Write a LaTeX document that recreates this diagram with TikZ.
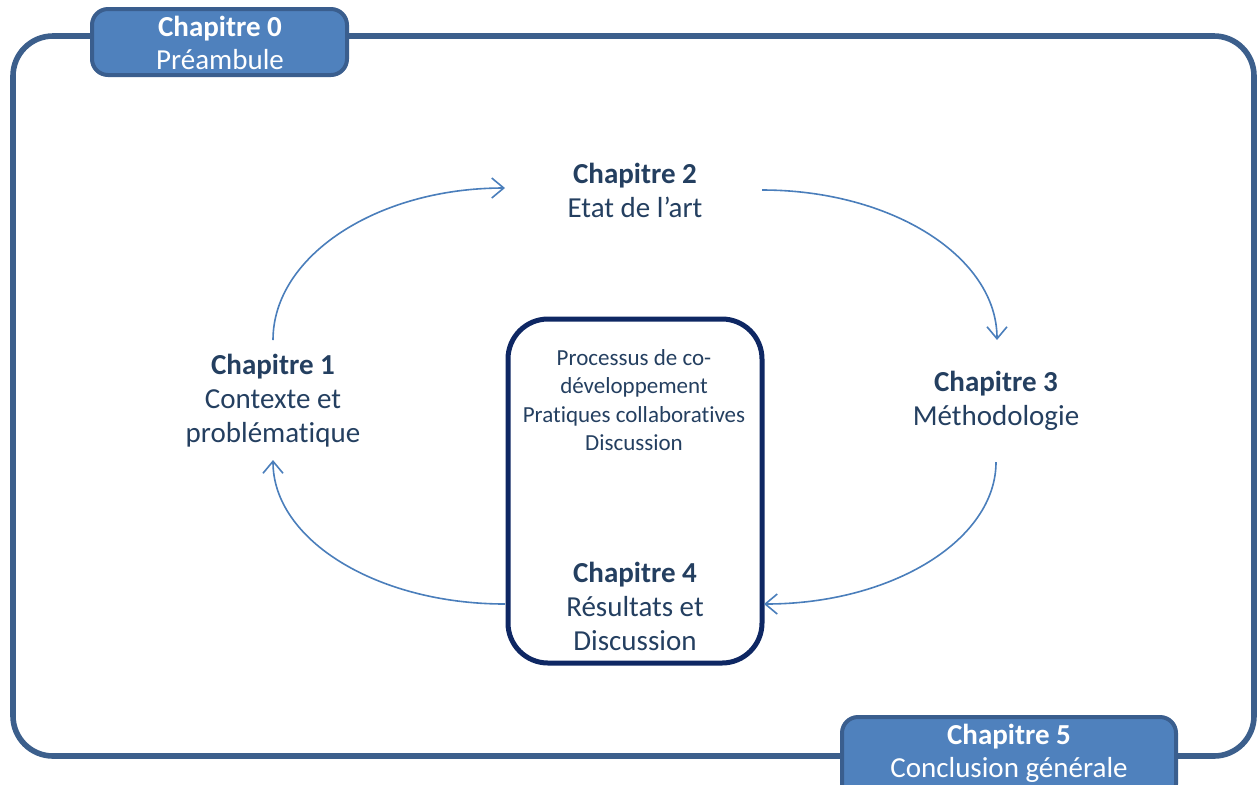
\documentclass[tikz,border=0pt]{standalone}
\usepackage{fontspec}
\setmainfont[RawFeature={-liga}]{Carlito}
\usetikzlibrary{arrows.meta}
\definecolor{framecol}{HTML}{3C5F8C}
\definecolor{boxfill}{HTML}{4F81BD}
\definecolor{boxedge}{HTML}{3A5E8E}
\definecolor{txtcol}{HTML}{243F60}
\definecolor{navy}{HTML}{0E2763}
\definecolor{arrcol}{HTML}{4A7EBB}
\tikzset{
  chapbox/.style={draw=boxedge, fill=boxfill, line width=2pt, rounded corners=8pt},
  boxlabel/.style={text=white, align=center, inner sep=0pt, font=\fontsize{14.5}{16.5}\selectfont},
  chaplabel/.style={text=txtcol, align=center, inner sep=0pt, font=\fontsize{14.5}{17}\selectfont},
  smalllabel/.style={text=txtcol, align=center, inner sep=0pt, font=\fontsize{11.5}{14.25}\selectfont},
  cyc/.style={draw=arrcol, line width=0.8pt, -{Straight Barb[length=6pt,width=10pt,line width=0.8pt]}},
}
\begin{document}
\begin{tikzpicture}[x=0.5pt,y=-0.5pt]
\useasboundingbox (0,0) rectangle (1258,784);
\clip (0,0) rectangle (1258,784);
% outer frame
\draw[draw=framecol, line width=2.8pt, rounded corners=20pt] (13,36) rectangle (1254,756);
% chapter 0 box
\draw[chapbox] (92,9) rectangle (347,75);
\node[boxlabel] (c0) at (220,43) {\textbf{Chapitre 0}\\Préambule};
% chapter 5 box
\draw[chapbox] (842,717) rectangle (1176,800);
\node[boxlabel] (c5) at (1009,753) {\textbf{Chapitre 5}\\Conclusion générale};
% central box
\draw[draw=navy, line width=2.5pt, rounded corners=20pt] (508,319) rectangle (762,663);
\node[smalllabel] (sub) at (634,400) {Processus de co-\\développement\\Pratiques collaboratives\\Discussion};
% chapter labels
\node[chaplabel] (c2) at (635,190) {\textbf{Chapitre 2}\\Etat de l’art};
\node[chaplabel] (c1) at (273,401) {\textbf{Chapitre 1}\\Contexte et\\problématique};
\node[chaplabel] (c3) at (996,401) {\textbf{Chapitre 3}\\Méthodologie};
\node[chaplabel] (c4) at (635,606) {\textbf{Chapitre 4}\\Résultats et\\Discussion};
% cycle arrows
\coordinate (a1s) at (273,340); \coordinate (a1e) at (505,188);
\coordinate (a2s) at (762,190); \coordinate (a2e) at (997,340);
\coordinate (a3s) at (996,462); \coordinate (a3e) at (764,604);
\coordinate (a4s) at (505,604); \coordinate (a4e) at (273,460);
\draw[cyc] (a1s) .. controls (273,256) and (377,188) .. (a1e);
\draw[cyc] (a2s) .. controls (892,190) and (997,257) .. (a2e);
\draw[cyc] (a3s) .. controls (996,540) and (892,604) .. (a3e);
\draw[cyc] (a4s) .. controls (377,604) and (273,540) .. (a4e);
\end{tikzpicture}
\end{document}
